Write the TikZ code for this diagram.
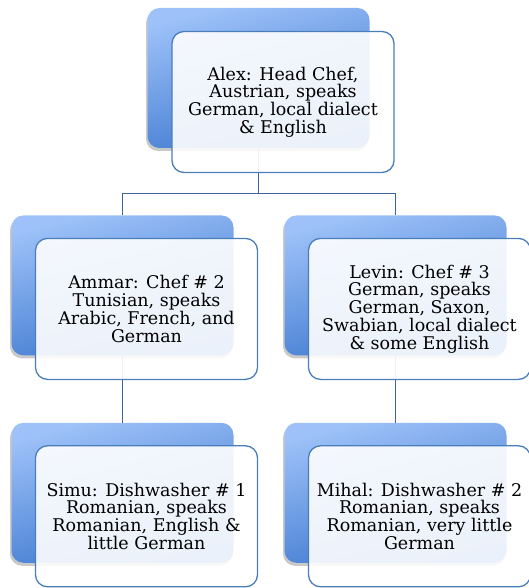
\documentclass[tikz,border=0pt]{standalone}
\usepackage{fontspec}
\setmainfont{DejaVu Serif}
\usetikzlibrary{positioning,calc,shadows}

\definecolor{backtop}{HTML}{9DC1F8}
\definecolor{backbot}{HTML}{3A76CE}
\definecolor{frameblue}{HTML}{4A7EBB}
\definecolor{linkblue}{HTML}{3F6299}

\begin{document}
\begin{tikzpicture}[
  x=1pt, y=-1pt,
  node distance=67pt,
  backbox/.style={rounded corners=12pt, top color=backtop, bottom color=backbot,
                  shading angle=15, minimum width=222pt, minimum height=140pt,
                  drop shadow={shadow xshift=-1.5pt, shadow yshift=-3pt,
                               opacity=.3, fill=black!70}},
  frontbox/.style={draw=frameblue, line width=1.3pt, rounded corners=12pt,
                   fill=white, fill opacity=.9, text opacity=1,
                   minimum width=222pt, minimum height=141pt, align=center,
                   font=\fontsize{17.5}{17.8}\selectfont},
  link/.style={draw=linkblue, line width=1.4pt},
]
\useasboundingbox (0,0) rectangle (528,588);

% back panels
\node[backbox] (alex) at (258.5,78) {};
\node[backbox, below=of alex, xshift=-136pt] (ammar) {};
\node[backbox, below=of alex, xshift=137pt] (levin) {};
\node[backbox, below=of ammar] (simu) {};
\node[backbox, below=of levin] (mihal) {};

% connectors
\draw[link] (alex.south) -- ++(0,45) -| (ammar.north);
\draw[link] (alex.south) -- ++(0,45) -| (levin.north);
\draw[link] (ammar.south) -- (simu.north);
\draw[link] (levin.south) -- (mihal.north);

% text panels
\node[frontbox] (alexF) at ($(alex)+(24.5,24)$)
  {Alex: Head Chef,\\Austrian, speaks\\German, local dialect\\\& English};
\node[frontbox] (ammarF) at ($(ammar)+(24,23.5)$)
  {Ammar: Chef \# 2\\Tunisian, speaks\\Arabic, French, and\\German};
\node[frontbox] (levinF) at ($(levin)+(24,23.5)$)
  {Levin: Chef \# 3\\German, speaks\\German, Saxon,\\Swabian, local dialect\\\& some English};
\node[frontbox] (simuF) at ($(simu)+(24,23.5)$)
  {Simu: Dishwasher \# 1\\Romanian, speaks\\Romanian, English \&\\little German};
\node[frontbox] (mihalF) at ($(mihal)+(24,23.5)$)
  {Mihal: Dishwasher \# 2\\Romanian, speaks\\Romanian, very little\\German};

\end{tikzpicture}
\end{document}
